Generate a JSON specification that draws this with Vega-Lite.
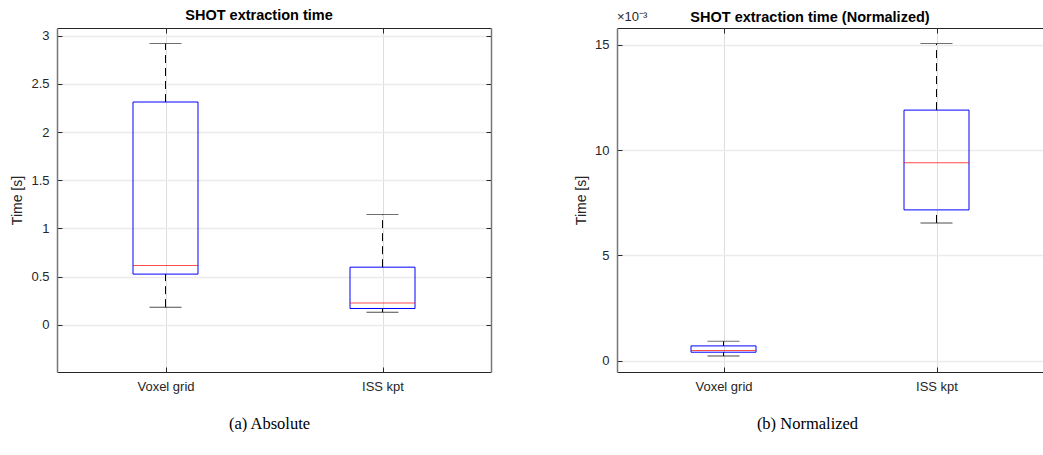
{
  "$schema": "https://vega.github.io/schema/vega-lite/v6.json",
  "padding": {"left": 10, "top": 8, "right": 0, "bottom": 0},
  "background": "white",
  "config": {
    "font": "Liberation Sans",
    "view": {"stroke": null},
    "axis": {
      "domainColor": "#262626",
      "tickColor": "#262626",
      "labelColor": "#262626",
      "labelFont": "Liberation Sans",
      "labelFontSize": 13,
      "titleFont": "Liberation Sans",
      "titleFontWeight": "normal",
      "titleColor": "#262626"
    },
    "axisY": {"domainColor": "#777777", "domainWidth": 1.5},
    "title": {"font": "Liberation Sans", "fontSize": 14.5, "fontWeight": "bold", "color": "#000000", "offset": 4}
  },
  "datasets": {
    "abs": [
      {"group": "Voxel grid", "lower": 0.183, "q1": 0.526, "median": 0.615, "q3": 2.312, "upper": 2.92},
      {"group": "ISS kpt", "lower": 0.131, "q1": 0.169, "median": 0.225, "q3": 0.598, "upper": 1.144}
    ],
    "norm": [
      {"group": "Voxel grid", "lower": 0.00022, "q1": 0.0004, "median": 0.00048, "q3": 0.0007, "upper": 0.00092},
      {"group": "ISS kpt", "lower": 0.00654, "q1": 0.00716, "median": 0.0094, "q3": 0.0119, "upper": 0.01506}
    ]
  },
  "hconcat": [
    {
      "width": 434,
      "height": 344,
      "title": {"text": "SHOT extraction time", "dx": -15},
      "data": {"name": "abs"},
      "layer": [
        {
          "mark": {"type": "bar", "fillOpacity": 0, "stroke": "#0000ff", "strokeWidth": 1, "size": 65},
          "encoding": {
            "x": {"field": "group", "type": "nominal", "sort": null, "scale": {"type": "point", "padding": 0.5},
              "axis": {"title": "(a) Absolute", "labelAngle": 0, "grid": true, "gridColor": "#dedede", "tickSize": -5, "labelPadding": 13,
                "titleFont": "Liberation Serif", "titleFontSize": 16.5, "titleColor": "#000000", "titlePadding": 22, "titleX": 212}},
            "y": {"field": "q1", "type": "quantitative", "scale": {"domain": [-0.49, 3.08], "nice": false, "zero": false},
              "axis": {"title": "Time [s]", "values": [0, 0.5, 1, 1.5, 2, 2.5, 3], "format": "~g", "grid": true, "gridColor": "#ebebeb", "gridWidth": 1.5, "tickSize": -5, "labelPadding": 13, "titleFontSize": 14, "titlePadding": 6}},
            "y2": {"field": "q3"}
          }
        },
        {
          "mark": {"type": "rule", "strokeDash": [8, 5], "color": "#000000"},
          "encoding": {
            "x": {"field": "group", "type": "nominal", "sort": null, "axis": null},
            "y": {"field": "lower", "type": "quantitative", "axis": null},
            "y2": {"field": "q1"}
          }
        },
        {
          "mark": {"type": "rule", "strokeDash": [8, 5], "color": "#000000"},
          "encoding": {
            "x": {"field": "group", "type": "nominal", "sort": null, "axis": null},
            "y": {"field": "q3", "type": "quantitative", "axis": null},
            "y2": {"field": "upper"}
          }
        },
        {
          "mark": {"type": "tick", "color": "#000000", "size": 32, "thickness": 1},
          "encoding": {
            "x": {"field": "group", "type": "nominal", "sort": null, "axis": null},
            "y": {"field": "lower", "type": "quantitative", "axis": null}
          }
        },
        {
          "mark": {"type": "tick", "color": "#333333", "size": 32, "thickness": 1},
          "encoding": {
            "x": {"field": "group", "type": "nominal", "sort": null, "axis": null},
            "y": {"field": "upper", "type": "quantitative", "axis": null}
          }
        },
        {
          "mark": {"type": "tick", "color": "#ff0000", "size": 65, "thickness": 1},
          "encoding": {
            "x": {"field": "group", "type": "nominal", "sort": null,
              "axis": {"orient": "top", "labels": false, "title": null, "grid": false, "tickSize": -5}},
            "y": {"field": "median", "type": "quantitative",
              "axis": {"orient": "right", "labels": false, "title": null, "grid": false, "tickSize": -5, "values": [0, 0.5, 1, 1.5, 2, 2.5, 3]}}
          }
        }
      ],
      "resolve": {"axis": {"x": "independent", "y": "independent"}}
    },
    {
      "width": 426,
      "height": 344,
      "title": {"text": "SHOT extraction time (Normalized)", "offset": -14, "dx": -20},
      "layer": [
        {
          "data": {"name": "norm"},
          "layer": [
            {
              "mark": {"type": "bar", "fillOpacity": 0, "stroke": "#0000ff", "strokeWidth": 1, "size": 65},
              "encoding": {
                "x": {"field": "group", "type": "nominal", "sort": null, "scale": {"type": "point", "padding": 0.5},
                  "axis": {"title": "(b) Normalized", "labelAngle": 0, "grid": true, "gridColor": "#dedede", "tickSize": -5, "labelPadding": 13,
                    "titleFont": "Liberation Serif", "titleFontSize": 16.5, "titleColor": "#000000", "titlePadding": 22, "titleX": 190}},
                "y": {"field": "q1", "type": "quantitative", "scale": {"domain": [-0.00054, 0.0158], "nice": false, "zero": false},
                  "axis": {"title": "Time [s]", "values": [0, 0.005, 0.01, 0.015], "labelExpr": "format(datum.value * 1000, '~g')", "grid": true, "gridColor": "#ebebeb", "gridWidth": 1.5, "tickSize": -5, "labelPadding": 13, "titleFontSize": 14, "titlePadding": 6}},
                "y2": {"field": "q3"}
              }
            },
            {
              "mark": {"type": "rule", "strokeDash": [8, 5], "color": "#000000"},
              "encoding": {
                "x": {"field": "group", "type": "nominal", "sort": null, "axis": null},
                "y": {"field": "lower", "type": "quantitative", "axis": null},
                "y2": {"field": "q1"}
              }
            },
            {
              "mark": {"type": "rule", "strokeDash": [8, 5], "color": "#000000"},
              "encoding": {
                "x": {"field": "group", "type": "nominal", "sort": null, "axis": null},
                "y": {"field": "q3", "type": "quantitative", "axis": null},
                "y2": {"field": "upper"}
              }
            },
            {
              "mark": {"type": "tick", "color": "#000000", "size": 32, "thickness": 1},
              "encoding": {
                "x": {"field": "group", "type": "nominal", "sort": null, "axis": null},
                "y": {"field": "lower", "type": "quantitative", "axis": null}
              }
            },
            {
              "mark": {"type": "tick", "color": "#333333", "size": 32, "thickness": 1},
              "encoding": {
                "x": {"field": "group", "type": "nominal", "sort": null, "axis": null},
                "y": {"field": "upper", "type": "quantitative", "axis": null}
              }
            },
            {
              "mark": {"type": "tick", "color": "#ff0000", "size": 65, "thickness": 1},
              "encoding": {
                "x": {"field": "group", "type": "nominal", "sort": null,
                  "axis": {"orient": "top", "labels": false, "title": null, "grid": false, "tickSize": -5}},
                "y": {"field": "median", "type": "quantitative", "axis": null}
              }
            }
          ],
          "resolve": {"axis": {"x": "independent", "y": "independent"}}
        },
        {
          "data": {"values": [{"label": "×10⁻³"}]},
          "mark": {"type": "text", "align": "left", "baseline": "bottom", "dy": -4, "fontSize": 13, "color": "#262626"},
          "encoding": {
            "x": {"datum": 0, "type": "quantitative", "scale": {"domain": [0, 1]}, "axis": null},
            "y": {"datum": 0.0158, "type": "quantitative", "axis": null},
            "text": {"field": "label"}
          }
        }
      ],
      "resolve": {"scale": {"x": "independent"}, "axis": {"x": "independent", "y": "independent"}}
    }
  ],
  "spacing": 82
}
